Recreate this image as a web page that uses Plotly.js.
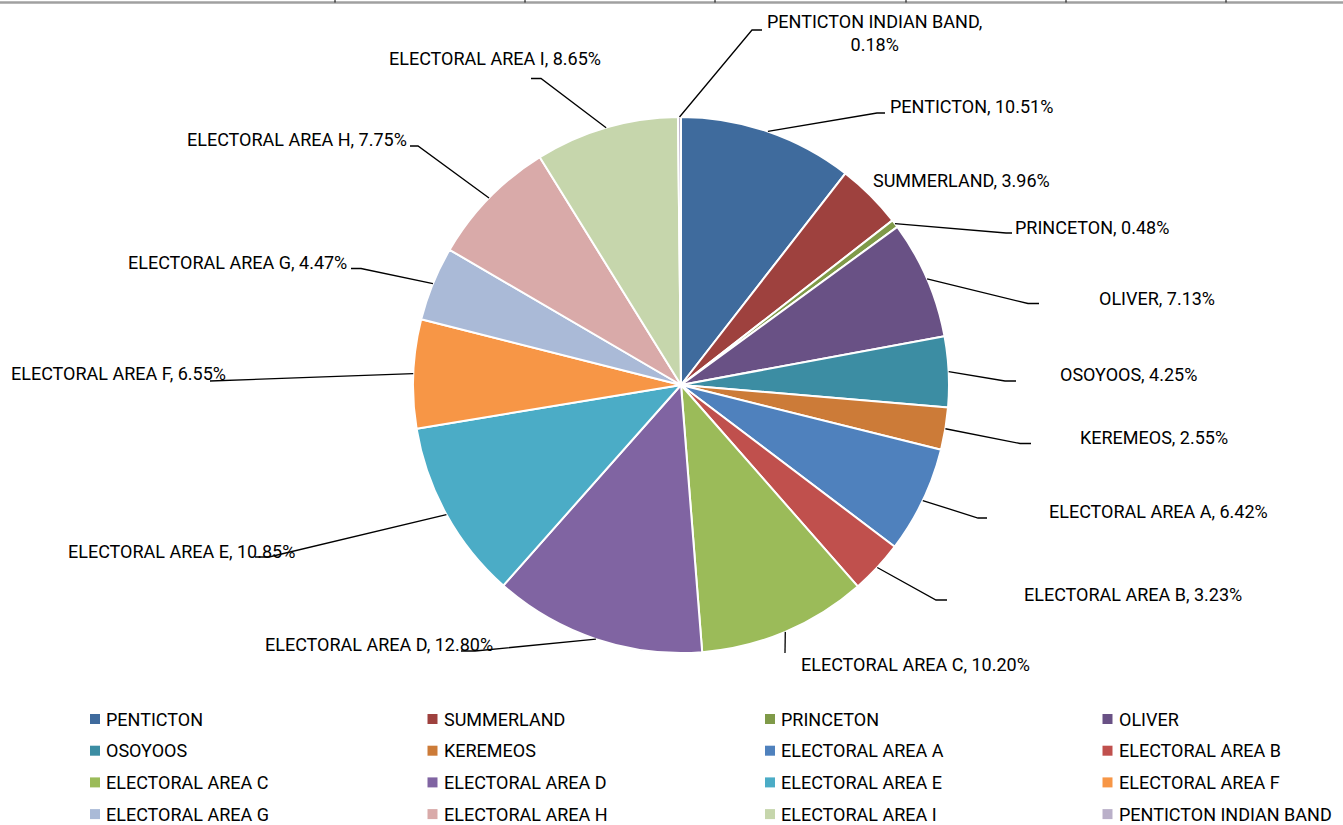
<!DOCTYPE html>
<html><head><meta charset="utf-8">
<script src="https://cdn.plot.ly/plotly-3.0.1.min.js"></script>
<style>html,body{margin:0;padding:0;background:#fff;overflow:hidden}#chart{width:1343px;height:825px}</style>
</head><body><div id="chart"></div>
<script>
// ---- data ----
const categories = ["PENTICTON","SUMMERLAND","PRINCETON","OLIVER","OSOYOOS","KEREMEOS",
  "ELECTORAL AREA A","ELECTORAL AREA B","ELECTORAL AREA C","ELECTORAL AREA D",
  "ELECTORAL AREA E","ELECTORAL AREA F","ELECTORAL AREA G","ELECTORAL AREA H",
  "ELECTORAL AREA I","PENTICTON INDIAN BAND"];
const shares = [10.51,3.96,0.48,7.13,4.25,2.55,6.42,3.23,10.20,12.80,10.85,6.55,4.47,7.75,8.65,0.18];
const sliceColors = ["#3F6B9D","#9E413E","#7F9A48","#695185","#3C8DA3","#CC7B38",
  "#4F81BD","#C0504D","#9BBB59","#8064A2","#4BACC6","#F79646",
  "#AABAD7","#D9AAA9","#C6D6AC","#BAB0C9"];

// ---- label layout (pixels) ----
const labelX      = [890, 873, 1015, 1099, 1060, 1080, 1049, 1024, 801, 493, 295, 226, 347, 407, 601, 874];
const labelY      = [107, 181, 227, 298, 374, 437, 511, 594, 664, 644, 551, 373, 262, 140, 58, 33];
const labelAnchor = ["left","left","left","left","left","left","left","left","left",
                     "right","right","right","right","right","right","center"];
const elbowX = [877, null, 1006, 1028, 1005, 1020, 978, 936, 785, 475, 269, 210, 361, 418, 541, 752];
const elbowY = [113, null, 233, 303.5, 381, 443.5, 518, 600, 653, 651, 557, 381, 268.5, 146, 78.5, 30];
const tailX  = [885, null, 1012, 1039, 1016, 1031, 987, 947, null, 461, 255, null, 351, 410, 531, 762];

// legend grid (pixels)
const legendCols = 4, legendX0 = 90, legendColStep = 337.5, legendY0 = 719, legendRowStep = 31.7, swatch = 10;

const W = 1343, H = 825;
const cx = 681, cy = 385, R = 268;
const px = x => x / W;
const py = y => 1 - y / H;
const font = "Roboto, 'Liberation Sans', Arial, sans-serif";
const fsize = 18;

const total = shares.reduce((a, b) => a + b, 0);
const annotations = [];
const shapes = [];
let cum = 0;
shares.forEach((v, i) => {
  const mid = (cum + v / 2) / total * 2 * Math.PI;
  cum += v;
  const sx = cx + R * Math.sin(mid), sy = cy - R * Math.cos(mid);
  let txt = categories[i] + ", " + v.toFixed(2) + "%";
  if (i === 15) txt = categories[i] + ",<br>" + v.toFixed(2) + "%";
  annotations.push({
    text: txt, x: px(labelX[i]), y: py(labelY[i]), xref: "paper", yref: "paper",
    xanchor: labelAnchor[i], yanchor: "middle", showarrow: false, align: "center",
    borderpad: 0, borderwidth: 0,
    font: {family: font, size: fsize, color: "#000"}
  });
  if (elbowX[i] !== null) {
    let p = `M${px(sx)},${py(sy)} L${px(elbowX[i])},${py(elbowY[i])}`;
    if (tailX[i] !== null) p += ` L${px(tailX[i])},${py(elbowY[i])}`;
    shapes.push({type: "path", xref: "paper", yref: "paper", path: p,
      line: {color: "#000", width: 1.3}});
  }
  // legend entry
  const col = i % legendCols, row = Math.floor(i / legendCols);
  const lx = legendX0 + col * legendColStep, ly = legendY0 + row * legendRowStep;
  shapes.push({type: "rect", xref: "paper", yref: "paper",
    x0: px(lx), x1: px(lx + swatch), y0: py(ly - swatch / 2), y1: py(ly + swatch / 2),
    fillcolor: sliceColors[i], line: {width: 0}});
  annotations.push({
    text: categories[i], x: px(lx + swatch + 6), y: py(ly), xref: "paper", yref: "paper",
    xanchor: "left", yanchor: "middle", showarrow: false, borderpad: 0, borderwidth: 0,
    font: {family: font, size: fsize, color: "#000"}
  });
});

// top border strip (cropped table above the chart)
shapes.push({type: "line", xref: "paper", yref: "paper", x0: 0, x1: 1, y0: py(2.5), y1: py(2.5),
  line: {color: "#A0A0A0", width: 2.5}});
[335, 525, 715, 906, 1066, 1226].forEach(t => shapes.push({type: "line", xref: "paper", yref: "paper",
  x0: px(t), x1: px(t), y0: py(0), y1: py(2.5), line: {color: "#000", width: 1}}));

const trace = {
  type: "pie", labels: categories, values: shares, sort: false, direction: "clockwise",
  rotation: 0, textinfo: "none", hoverinfo: "label+percent",
  marker: {colors: sliceColors, line: {color: "#fff", width: 2}},
  domain: {x: [px(cx - R), px(cx + R)], y: [py(cy + R), py(cy - R)]}
};

const layout = {
  width: W, height: H, margin: {l: 0, r: 0, t: 0, b: 0},
  paper_bgcolor: "#fff", plot_bgcolor: "#fff",
  showlegend: false,
  annotations: annotations, shapes: shapes
};
Plotly.newPlot("chart", [trace], layout, {displayModeBar: false, staticPlot: true});
</script></body></html>
